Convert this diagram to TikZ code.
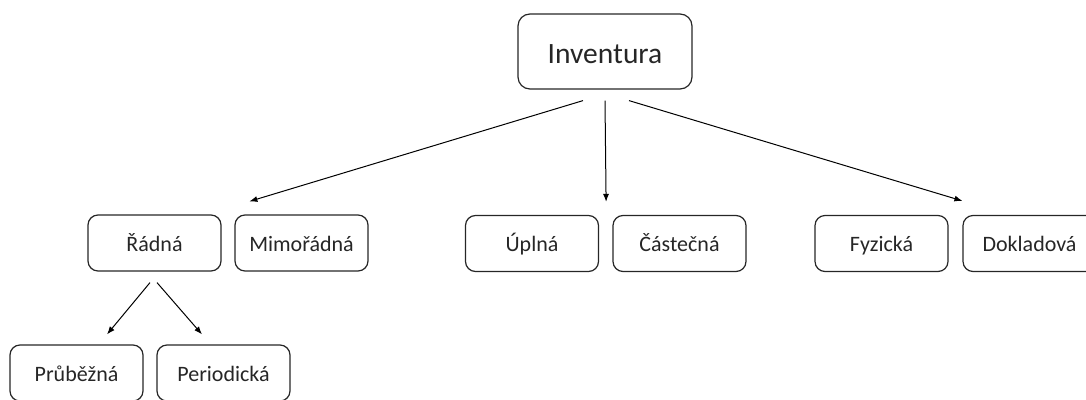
\documentclass[tikz,border=0pt]{standalone}
\usepackage{fontspec}
\setmainfont{Carlito}
\usetikzlibrary{arrows.meta}
\begin{document}
\begin{tikzpicture}[x=1pt,y=-1pt,
  item/.style={draw=black!85,line width=1.2pt,rounded corners=10pt,minimum width=133pt,minimum height=56pt,inner sep=0pt,text height=18pt,text depth=2pt,text=black!85,font=\fontsize{22}{26}\selectfont},
  top/.style={item,rounded corners=12pt,minimum width=174pt,minimum height=75pt,text height=25pt,text depth=2pt,font=\fontsize{29.5}{34}\selectfont},
  >={Latex[length=8pt,width=6pt]},line width=1pt]
    \clip (0,0) rectangle (1086,399);

    %root
    \node (inv) at (605,51.5)[top]{Inventura};

    %second level
    \node (radna) at (154.5,243)[item]{Řádná};
    \node (mimo) at (301.5,243)[item]{Mimořádná};
    \node (uplna) at (532,243.5)[item]{Úplná};
    \node (cast) at (679.5,243.5)[item]{Částečná};
    \node (fyz) at (881.5,243.5)[item]{Fyzická};
    \node (dokl) at (1029.5,243.5)[item]{Dokladová};

    %third level
    \node (prub) at (76.5,373)[item]{Průběžná};
    \node (peri) at (223.5,373)[item]{Periodická};

    %from root
    \draw [->] ([xshift=-22pt,yshift=-11pt]inv.south) to ([xshift=15pt,yshift=13pt]mimo.north west);
    \draw [->] ([yshift=-11pt]inv.south) to ([xshift=7pt,yshift=13pt]uplna.north east);
    \draw [->] ([xshift=24pt,yshift=-11pt]inv.south) to ([yshift=14pt]dokl.north west);

    %from radna
    \draw [->] ([xshift=-4.5pt,yshift=-11pt]radna.south) to ([xshift=30.5pt,yshift=10pt]prub.north);
    \draw [->] ([xshift=2.5pt,yshift=-11pt]radna.south) to ([xshift=-21.5pt,yshift=10pt]peri.north);
\end{tikzpicture}
\end{document}
